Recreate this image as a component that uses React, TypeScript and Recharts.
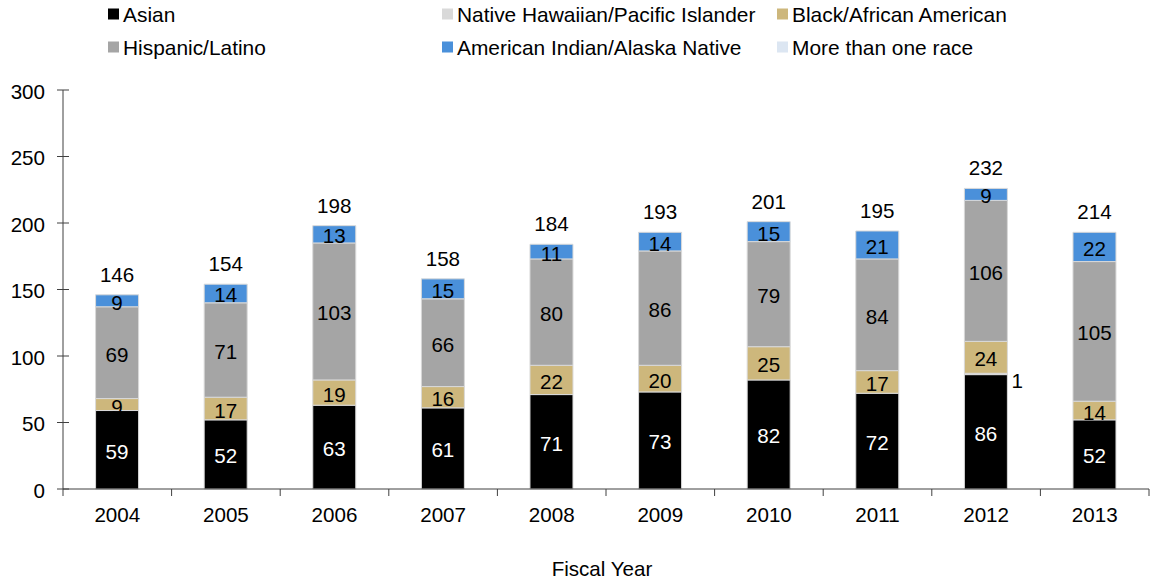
import React from 'react';
import { BarChart, Bar, XAxis, YAxis, LabelList } from 'recharts';

const years = ['2004', '2005', '2006', '2007', '2008', '2009', '2010', '2011', '2012', '2013'];
const asian = [59, 52, 63, 61, 71, 73, 82, 72, 86, 52];
const nativeHawaiian = [0, 0, 0, 0, 0, 0, 0, 0, 1, 0];
const blackAfrican = [9, 17, 19, 16, 22, 20, 25, 17, 24, 14];
const hispanic = [69, 71, 103, 66, 80, 86, 79, 84, 106, 105];
const amIndian = [9, 14, 13, 15, 11, 14, 15, 21, 9, 22];
const totals = [146, 154, 198, 158, 184, 193, 201, 195, 232, 214];
const yTicks = [0, 50, 100, 150, 200, 250, 300];

const seriesNames = [
  'Asian',
  'Native Hawaiian/Pacific Islander',
  'Black/African American',
  'Hispanic/Latino',
  'American Indian/Alaska Native',
  'More than one race',
];
const seriesColors = ['#000000', '#D9D9D9', '#CDB77C', '#A5A5A5', '#4A90DA', '#DCE6F2'];

const data = years.map((year, i) => ({
  year,
  asian: asian[i],
  nativeHawaiian: nativeHawaiian[i],
  blackAfrican: blackAfrican[i],
  hispanic: hispanic[i],
  amIndian: amIndian[i],
  total: totals[i],
}));

const FONT = 'Liberation Sans, Arial, sans-serif';
const FS = 20.6;
const W = 1150;
const H = 581;
const LEFT = 63;
const RIGHT = 1;
const BW = (W - LEFT - RIGHT) / years.length;

const centerLabel = (color: string) => (props: any) => {
  const { x, y, width, height, value } = props;
  if (!value) return null;
  return (
    <text
      x={Number(x) + Number(width) / 2}
      y={Number(y) + Number(height) / 2 + 1.5}
      textAnchor="middle"
      dominantBaseline="central"
      fill={color}
      fontSize={FS}
      fontFamily={FONT}
    >
      {value}
    </text>
  );
};

const sideLabel = (props: any) => {
  const { x, y, width, height, value } = props;
  if (!value) return null;
  return (
    <text
      x={Number(x) + Number(width) + 4}
      y={Number(y) + Number(height) / 2 + 6.5}
      textAnchor="start"
      dominantBaseline="central"
      fill="#000"
      fontSize={FS}
      fontFamily={FONT}
    >
      {value}
    </text>
  );
};

const totalLabel = (props: any) => {
  const { x, y, width, value } = props;
  return (
    <text
      x={Number(x) + Number(width) / 2}
      y={Number(y) - 13}
      textAnchor="middle"
      fill="#000"
      fontSize={FS}
      fontFamily={FONT}
    >
      {value}
    </text>
  );
};

const YTick = (props: any) => {
  const { x, y, payload } = props;
  return (
    <g>
      <line x1={x - 6} x2={x + 6} y1={y} y2={y} stroke="#404040" strokeWidth={1} />
      <text x={x - 18} y={y + 1} textAnchor="end" dominantBaseline="central" fill="#000" fontSize={FS} fontFamily={FONT}>
        {payload.value}
      </text>
    </g>
  );
};

const XTick = (props: any) => {
  const { x, y, payload, index } = props;
  const last = index === years.length - 1;
  return (
    <g>
      <line x1={x - BW / 2} x2={x - BW / 2} y1={y} y2={y + 7} stroke="#404040" strokeWidth={1} />
      {last && <line x1={x + BW / 2} x2={x + BW / 2} y1={y} y2={y + 7} stroke="#404040" strokeWidth={1} />}
      <text x={x} y={y + 33} textAnchor="middle" fill="#000" fontSize={FS} fontFamily={FONT}>
        {payload.value}
      </text>
    </g>
  );
};

const legendCols = [108, 442, 777];
const legendRows = [14, 47];

const LegendOverlay = () => (
  <svg width={W} height={65} style={{ position: 'absolute', left: 0, top: 0 }}>
    {seriesNames.map((name, i) => {
      const col = i % 3;
      const row = Math.floor(i / 3);
      const cx = legendCols[col];
      const cy = legendRows[row];
      return (
        <g key={name}>
          <rect x={cx} y={cy - 5.5} width={11} height={11} fill={seriesColors[i]} />
          <text x={cx + 15} y={cy} dominantBaseline="central" fill="#000" fontSize={20.9} fontFamily={FONT}>
            {name}
          </text>
        </g>
      );
    })}
  </svg>
);

const keys = ['asian', 'nativeHawaiian', 'blackAfrican', 'hispanic', 'amIndian'];

export default function App() {
  return (
    <div style={{ position: 'absolute', left: 0, top: 0, width: W, height: H, background: '#fff' }}>
      <BarChart
        width={W}
        height={H}
        data={data}
        margin={{ top: 90, right: RIGHT, bottom: 0, left: 0 }}
        barCategoryGap="30%"
      >
        <XAxis
          dataKey="year"
          height={92}
          tickLine={false}
          tickSize={0}
          tickMargin={0}
          axisLine={{ stroke: '#404040' }}
          tick={<XTick />}
          interval={0}
          label={{ value: 'Fiscal Year', position: 'insideBottom', offset: 5, dx: -4, fontSize: FS, fontFamily: FONT, fill: '#000' }}
        />
        <YAxis
          width={LEFT}
          domain={[0, 300]}
          ticks={yTicks}
          interval={0}
          tickLine={false}
          tickSize={0}
          tickMargin={0}
          axisLine={{ stroke: '#404040' }}
          tick={<YTick />}
        />
        {keys.map((k, i) => (
          <Bar
            key={k}
            dataKey={k}
            name={seriesNames[i]}
            stackId="a"
            fill={seriesColors[i]}
            stroke="#D9D9D9"
            strokeWidth={1}
            isAnimationActive={false}
          >
            {k === 'nativeHawaiian' ? (
              <LabelList dataKey={k} content={sideLabel} />
            ) : (
              <LabelList dataKey={k} content={centerLabel(k === 'asian' ? '#fff' : '#000')} />
            )}
            {k === 'amIndian' && <LabelList dataKey="total" content={totalLabel} />}
          </Bar>
        ))}
      </BarChart>
      <LegendOverlay />
    </div>
  );
}
